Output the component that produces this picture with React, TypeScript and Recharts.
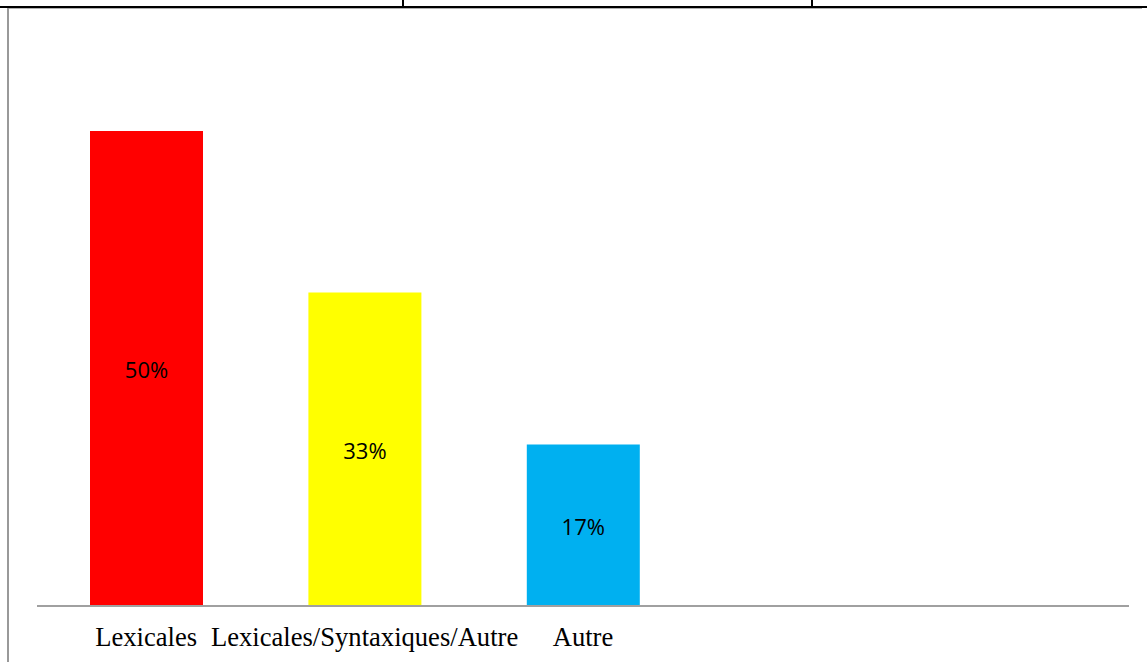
import React from 'react';
import { BarChart, Bar, XAxis, YAxis, Cell, LabelList } from 'recharts';

const categories = ['Lexicales', 'Lexicales/Syntaxiques/Autre', 'Autre', '', ''];
const values: (number | null)[] = [50, 33, 17, null, null];
const colors = ['#FF0000', '#FFFF00', '#00B0F0', '#FFFFFF', '#FFFFFF'];

const data = categories.map((name, i) => ({ name, value: values[i] }));

export default function App() {
  return (
    <div style={{ position: 'absolute', left: 0, top: 0, width: 1147, height: 662, background: '#fff', overflow: 'hidden' }}>
      {/* table frame */}
      <div style={{ position: 'absolute', left: 0, top: 6, width: 1147, height: 2, background: '#000' }} />
      <div style={{ position: 'absolute', left: 402, top: 0, width: 2, height: 6, background: '#000' }} />
      <div style={{ position: 'absolute', left: 811, top: 0, width: 2, height: 6, background: '#000' }} />
      <div style={{ position: 'absolute', left: 7, top: 8, width: 1135, height: 1, background: '#b0b0b0' }} />
      <div style={{ position: 'absolute', left: 7, top: 8, width: 2, height: 654, background: '#999' }} />
      <div style={{ position: 'absolute', left: 0, top: 0 }}>
        <BarChart width={1147} height={662} data={data} margin={{ top: 36, right: 18, left: 37, bottom: 0 }}>
          <XAxis
            dataKey="name"
            interval={0}
            height={56}
            tickLine={false}
            tickSize={6}
            tickMargin={15}
            axisLine={{ stroke: '#a0a0a0', strokeWidth: 2 }}
            tick={{ fill: '#000', fontSize: 26.6, fontFamily: '"Liberation Serif", "Times New Roman", serif' }}
          />
          <YAxis hide domain={[0, 60]} />
          <Bar dataKey="value" barSize={113} isAnimationActive={false}>
            {data.map((d, i) => (
              <Cell key={i} fill={colors[i]} />
            ))}
            <LabelList
              dataKey="value"
              position="center"
              dy={2}
              formatter={(v: any) => (v == null ? '' : `${v}%`)}
              style={{ fill: '#000', fontSize: 22, fontFamily: '"Open Sans", sans-serif' }}
            />
          </Bar>
        </BarChart>
      </div>
    </div>
  );
}
